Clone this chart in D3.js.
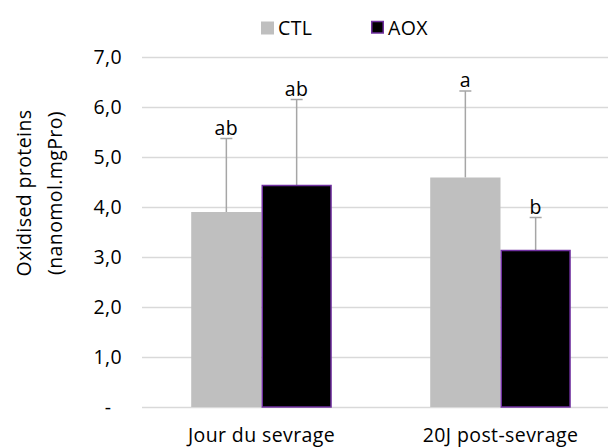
<!DOCTYPE html>
<html>
<head>
<meta charset="utf-8">
<script src="https://cdn.jsdelivr.net/npm/d3@7"></script>
<style>
  body { margin: 0; background: #fff; }
  svg { display: block; font-family: "Open Sans", Lato, sans-serif; }
  svg text { letter-spacing: 0.4px; }
</style>
</head>
<body>
<div id="chart"></div>
<script>
const groups = ["Jour du sevrage", "20J post-sevrage"];
const series = ["CTL", "AOX"];
const ctlValues = [3.9, 4.59];
const aoxValues = [4.43, 3.13];
const ctlErrors = [1.47, 1.73];
const aoxErrors = [1.72, 0.66];
const ctlLetters = ["ab", "a"];
const aoxLetters = ["ab", "b"];
const yTicks = [0, 1, 2, 3, 4, 5, 6, 7];

const width = 608, height = 448;
const margin = {top: 57, right: -12, bottom: 41, left: 142};
const fs = 19.5;

const svg = d3.select("#chart").append("svg")
    .attr("width", width)
    .attr("height", height);

const x = d3.scaleBand()
    .domain(groups)
    .range([margin.left, width - margin.right]);

const xInner = d3.scaleBand()
    .domain(series)
    .range([0, x.bandwidth()])
    .paddingOuter(0.7)
    .paddingInner(0);

const y = d3.scaleLinear()
    .domain([0, 7])
    .range([height - margin.bottom, margin.top]);

// gridlines
svg.append("g")
  .selectAll("line")
  .data(yTicks)
  .join("line")
    .attr("x1", margin.left)
    .attr("x2", width - margin.right)
    .attr("y1", d => Math.round(y(d)) + 0.5)
    .attr("y2", d => Math.round(y(d)) + 0.5)
    .attr("stroke", "#d9d9d9")
    .attr("stroke-width", 1.3);

// y tick labels
const fmt = d => d === 0 ? "-" : d3.format(".1f")(d).replace(".", ",");
svg.append("g")
  .selectAll("text")
  .data(yTicks)
  .join("text")
    .attr("x", d => d === 0 ? 108 : 122)
    .attr("y", d => y(d))
    .attr("dy", "0.35em")
    .attr("text-anchor", d => d === 0 ? "middle" : "end")
    .attr("font-size", fs)
    .attr("fill", "#000")
    .text(fmt);

const rows = groups.map((g, i) => ([
  {g, s: "CTL", v: ctlValues[i], e: ctlErrors[i], l: ctlLetters[i]},
  {g, s: "AOX", v: aoxValues[i], e: aoxErrors[i], l: aoxLetters[i]}
])).flat();

const bx = d => x(d.g) + xInner(d.s);

// error bars (drawn behind bars)
const err = svg.append("g")
    .attr("stroke", "#a6a6a6")
    .attr("stroke-width", 1.5);
err.selectAll("line.v")
  .data(rows)
  .join("line")
    .attr("class", "v")
    .attr("x1", d => bx(d) + xInner.bandwidth() / 2)
    .attr("x2", d => bx(d) + xInner.bandwidth() / 2)
    .attr("y1", d => y(d.v))
    .attr("y2", d => y(d.v + d.e));
err.selectAll("line.c")
  .data(rows)
  .join("line")
    .attr("class", "c")
    .attr("x1", d => bx(d) + xInner.bandwidth() / 2 - 6)
    .attr("x2", d => bx(d) + xInner.bandwidth() / 2 + 6)
    .attr("y1", d => y(d.v + d.e))
    .attr("y2", d => y(d.v + d.e));

// bars
svg.append("g")
  .selectAll("rect")
  .data(rows)
  .join("rect")
    .attr("x", d => d.s === "AOX" ? bx(d) + 0.75 : bx(d))
    .attr("y", d => y(d.v))
    .attr("width", d => d.s === "AOX" ? xInner.bandwidth() - 1.5 : xInner.bandwidth())
    .attr("height", d => y(0) - y(d.v))
    .attr("fill", d => d.s === "CTL" ? "#bfbfbf" : "#000")
    .attr("stroke", d => d.s === "CTL" ? "none" : "#7030a0")
    .attr("stroke-width", 1.5);

// significance letters
svg.append("g")
  .selectAll("text")
  .data(rows)
  .join("text")
    .attr("x", d => bx(d) + xInner.bandwidth() / 2)
    .attr("y", d => y(d.v + d.e) - 4)
    .attr("text-anchor", "middle")
    .attr("font-size", fs)
    .text(d => d.l);

// x labels
svg.append("g")
  .selectAll("text")
  .data(groups)
  .join("text")
    .attr("x", d => x(d) + x.bandwidth() / 2)
    .attr("y", 442)
    .attr("text-anchor", "middle")
    .attr("font-size", fs)
    .text(d => d);

// y title
const yt = svg.append("text")
    .attr("transform", "translate(31,193) rotate(-90)")
    .attr("text-anchor", "middle")
    .attr("font-size", fs);
yt.append("tspan").attr("x", 0).attr("dy", 0).text("Oxidised proteins");
yt.append("tspan").attr("x", 0).attr("dy", 31).text("(nanomol.mgPro)");

// legend
const legend = svg.append("g");
const legX = [261, 371];
series.forEach((s, i) => {
  legend.append("rect")
      .attr("x", legX[i] + (s === "AOX" ? 0.75 : 0))
      .attr("y", 21.5)
      .attr("width", s === "AOX" ? 11.5 : 13)
      .attr("height", s === "AOX" ? 11.5 : 13)
      .attr("fill", s === "CTL" ? "#bfbfbf" : "#000")
      .attr("stroke", s === "CTL" ? "none" : "#7030a0")
      .attr("stroke-width", 1.5);
  legend.append("text")
      .attr("x", legX[i] + 17)
      .attr("y", 28)
      .attr("dy", "0.35em")
      .attr("font-size", fs)
      .text(s);
});
</script>
</body>
</html>
